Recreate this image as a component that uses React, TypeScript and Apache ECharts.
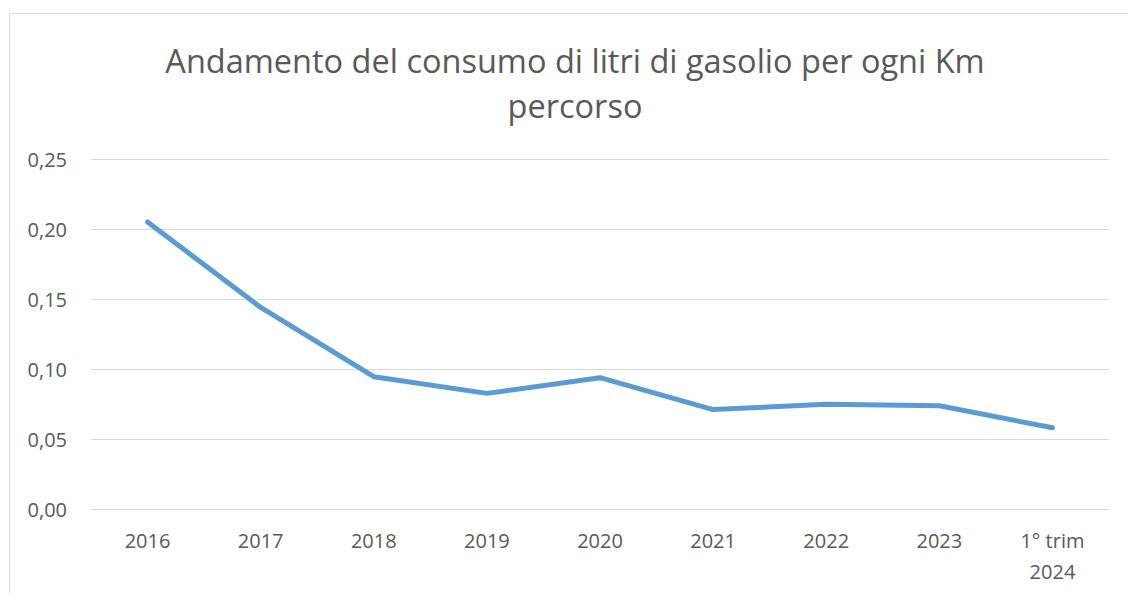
import React, { useEffect, useRef } from "react";
import * as echarts from "echarts";

const categories = ["2016", "2017", "2018", "2019", "2020", "2021", "2022", "2023", "1° trim\n2024"];
const consumo = [0.205, 0.144, 0.0945, 0.0826, 0.0938, 0.071, 0.0748, 0.0738, 0.058];
const titleText = "Andamento del consumo di litri di gasolio per ogni Km\npercorso";

export default function App() {
  const ref = useRef<HTMLDivElement>(null);
  useEffect(() => {
    if (!ref.current) return;
    const chart = echarts.init(ref.current, undefined, { renderer: "svg" });
    chart.setOption({
      animation: false,
      backgroundColor: "#ffffff",
      textStyle: { fontFamily: "Open Sans" },
      title: {
        text: titleText,
        left: 570,
        top: 33,
        textAlign: "center",
        textStyle: {
          fontFamily: "Open Sans",
          fontWeight: "normal",
          fontSize: 32.5,
          lineHeight: 45,
          color: "#595959",
        },
      },
      graphic: [
        {
          type: "rect",
          shape: { x: 9.5, y: 13.5, width: 1300, height: 800 },
          style: { fill: "none", stroke: "#d9d9d9", lineWidth: 1 },
          silent: true,
          z: -1,
        },
      ],
      grid: { left: 91, right: 19, top: 159, bottom: 84, containLabel: false },
      xAxis: {
        type: "category",
        data: categories,
        boundaryGap: true,
        axisLine: { show: true, lineStyle: { color: "#d9d9d9", width: 1 } },
        axisTick: { show: false },
        axisLabel: {
          color: "#595959",
          fontSize: 20,
          fontFamily: "Open Sans",
          margin: 16,
          lineHeight: 31,
          interval: 0,
        },
      },
      yAxis: {
        type: "value",
        min: 0,
        max: 0.25,
        interval: 0.05,
        axisLine: { show: false },
        axisTick: { show: false },
        splitLine: { lineStyle: { color: "#d9d9d9", width: 1 } },
        axisLabel: {
          color: "#595959",
          fontSize: 20,
          fontFamily: "Open Sans",
          margin: 24,
          formatter: (v: number) => v.toFixed(2).replace(".", ","),
        },
      },
      series: [
        {
          type: "line",
          data: consumo,
          showSymbol: false,
          symbol: "none",
          smooth: false,
          lineStyle: { color: "#5b9bd5", width: 5, cap: "round", join: "round" },
        },
      ],
    });
    return () => chart.dispose();
  }, []);
  return (
    <div
      ref={ref}
      style={{ position: "fixed", left: 0, top: 0, width: 1128, height: 593 }}
    />
  );
}
